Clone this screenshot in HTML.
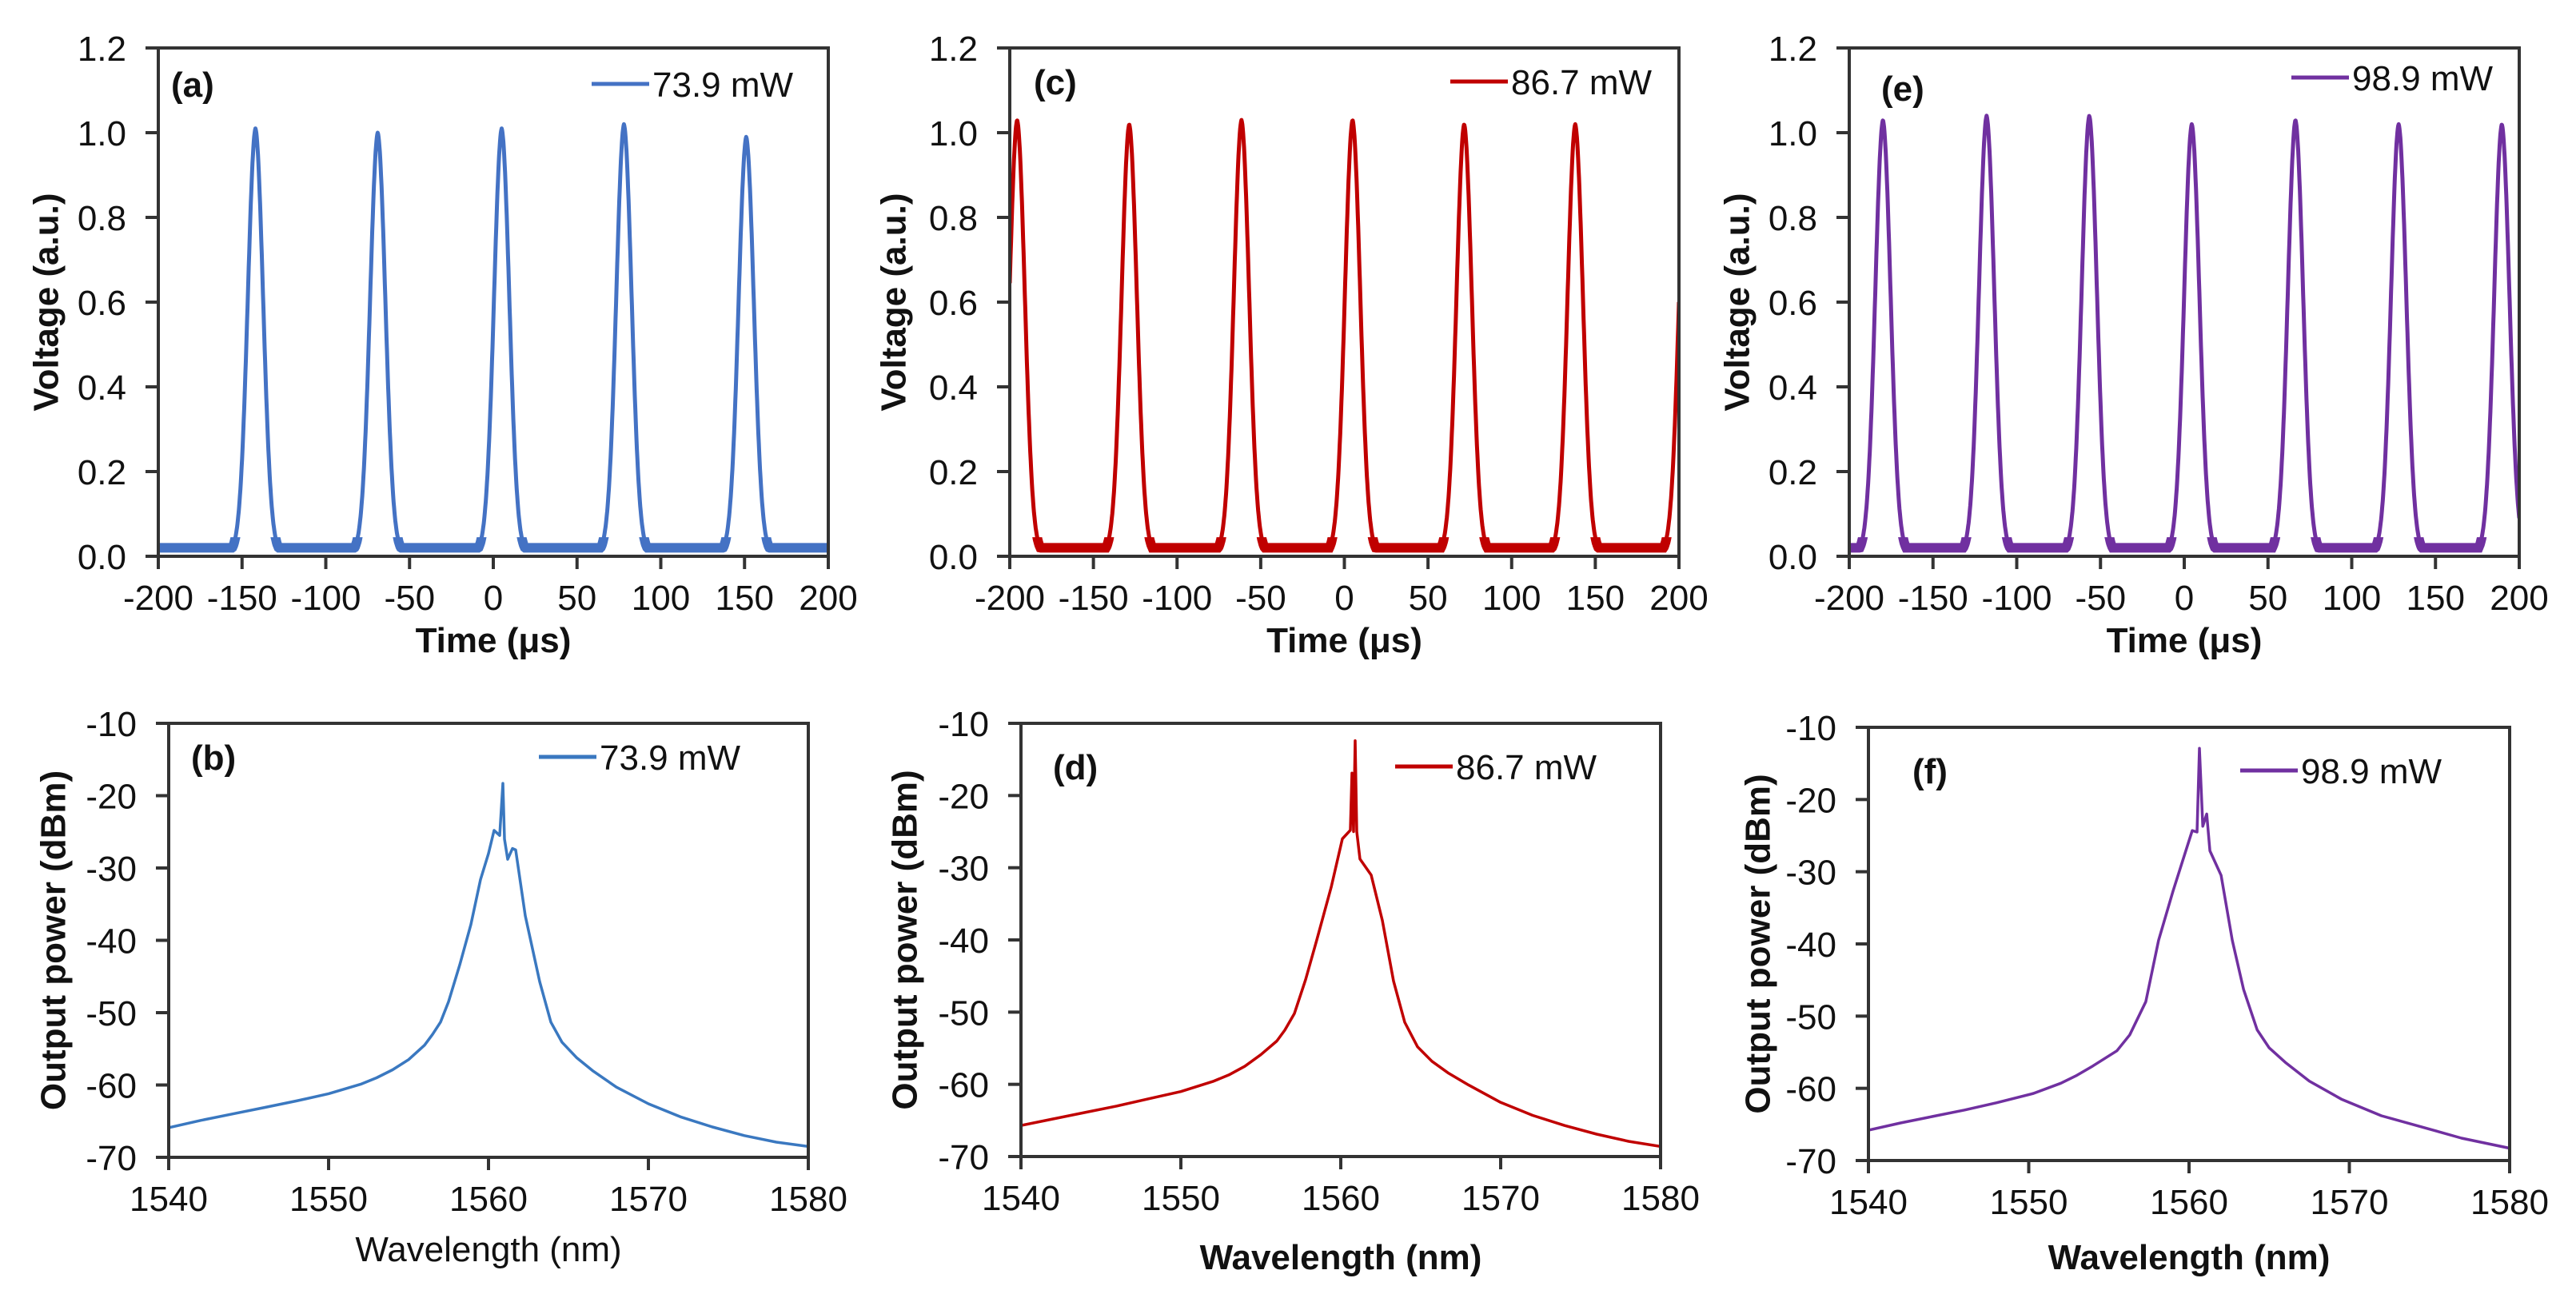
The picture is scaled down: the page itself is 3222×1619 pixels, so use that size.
<!DOCTYPE html>
<html><head><meta charset="utf-8">
<style>
html,body{margin:0;padding:0;background:#fff;}
svg{display:block;font-family:"Liberation Sans",Arial,sans-serif;}
</style></head>
<body>
<svg id="fig" width="3222" height="1619" viewBox="0 0 3222 1619" xmlns="http://www.w3.org/2000/svg">
<rect width="3222" height="1619" fill="#fff"/>
</svg>
<script>
// ---- data ----
const timeTicks = [-200,-150,-100,-50,0,50,100,150,200];
const voltTicks = [0,0.2,0.4,0.6,0.8,1.0,1.2];
const voltTickLabels = ["0.0","0.2","0.4","0.6","0.8","1.0","1.2"];
const wlTicks = [1540,1550,1560,1570,1580];
const dbTicks = [-70,-60,-50,-40,-30,-20,-10];

const peaksA_t = [-142,-69,5,78,151];
const peaksA_v = [1.01,1.00,1.01,1.02,0.99];
const peaksC_t = [-195.6,-128.6,-61.5,4.9,71.6,138.0,204.6];
const peaksC_v = [1.03,1.02,1.03,1.03,1.02,1.02,1.0];
const peaksE_t = [-179.9,-118,-56.7,4.5,66.4,128,189.6];
const peaksE_v = [1.03,1.04,1.04,1.02,1.03,1.02,1.02];
const baseline = [0.02,0.02,0.02];

const specB_wl = [1540,1542,1544,1546,1548,1550,1552,1553,1554,1555,1556,1556.5,1557,1557.5,1558.2,1558.9,1559.5,1560,1560.35,1560.7,1560.9,1561.0,1561.2,1561.5,1561.7,1562.3,1563.2,1563.9,1564.6,1565.5,1566.5,1568,1570,1572,1574,1576,1578,1580];
const specB_db = [-65.9,-64.9,-64.0,-63.1,-62.2,-61.2,-59.9,-59.0,-57.9,-56.5,-54.5,-53.0,-51.3,-48.5,-43.4,-37.8,-31.6,-28,-24.8,-25.5,-18.3,-26,-28.8,-27.3,-27.5,-36.6,-45.7,-51.3,-54.1,-56.2,-58.0,-60.3,-62.6,-64.4,-65.8,-67.0,-67.9,-68.5];
const specD_wl = [1540,1542,1544,1546,1548,1550,1552,1553,1554,1555,1556,1556.5,1557.1,1557.8,1558.5,1559.4,1560.1,1560.6,1560.7,1560.8,1560.9,1561.0,1561.2,1561.9,1562.6,1563.3,1564,1564.8,1565.7,1566.7,1568,1570,1572,1574,1576,1578,1580];
const specD_db = [-65.7,-64.8,-63.9,-63.0,-62.0,-61.0,-59.6,-58.7,-57.5,-55.9,-54.0,-52.5,-50.2,-45.5,-40,-32.7,-26,-24.8,-16.9,-25,-12.4,-25,-28.8,-31,-37.3,-45.7,-51.4,-54.8,-56.8,-58.4,-60.1,-62.5,-64.3,-65.7,-66.9,-67.9,-68.6];
const specF_wl = [1540,1542,1544,1546,1548,1550.3,1552,1553,1554,1555.5,1556.3,1557.3,1558.1,1559,1560.2,1560.5,1560.65,1560.86,1561.1,1561.3,1562,1562.7,1563.4,1564.25,1565,1566,1567.5,1569.5,1572,1574.75,1577,1580];
const specF_db = [-65.8,-64.8,-63.9,-63.0,-62.0,-60.7,-59.3,-58.2,-56.9,-54.8,-52.6,-48,-39.5,-32.7,-24.3,-24.5,-12.9,-23.7,-22,-27.1,-30.5,-39.5,-46.3,-51.9,-54.4,-56.4,-59,-61.5,-63.8,-65.5,-66.9,-68.3];

const NS = "http://www.w3.org/2000/svg";
const svg = document.getElementById('fig');
function mk(tag, attrs, parent){
  const e = document.createElementNS(NS, tag);
  for (const k in attrs) e.setAttribute(k, attrs[k]);
  (parent||svg).appendChild(e); return e;
}
const AX = "#333";

function panel(p){
  const g = mk('g', {});
  
  
  const xs = v => p.L + (v - p.xmin) / (p.xmax - p.xmin) * (p.R - p.L);
  const ys = v => p.B - (v - p.ymin) / (p.ymax - p.ymin) * (p.B - p.T);
  const cp = mk('clipPath', {id:'clip-' + p.id}, g);
  mk('rect', {x:p.L, y:p.T, width:p.R-p.L, height:p.B-p.T}, cp);
  let d = "";
  if (p.type === 'pulse') {
    for (let t = p.xmin; t <= p.xmax + 0.001; t += 0.25) {
      let v = p.base;
      for (let i = 0; i < p.pt.length; i++) {
        const dt = t - p.pt[i];
        const pk = p.pv[i] * (0.93*Math.exp(-dt*dt/(2*4.6*4.6)) + 0.07*Math.exp(-Math.abs(dt)/7));
        v = Math.max(v, pk);
      }
      d += (d ? "L" : "M") + xs(t).toFixed(1) + "," + ys(Math.min(v, 1.2)).toFixed(1);
    }
    const cb = mk('clipPath', {id:'clipb-' + p.id}, g);
    mk('rect', {x:p.L, y:ys(0.045), width:p.R-p.L, height:p.B-ys(0.045)}, cb);
    const band = mk('path', {d:d, fill:'none', stroke:p.color, 'stroke-width':12, 'clip-path':'url(#clipb-' + p.id + ')'}, g);
    
    
  } else {
    for (let i = 0; i < p.sx.length; i++)
      d += (i ? "L" : "M") + xs(p.sx[i]).toFixed(1) + "," + ys(p.sy[i]).toFixed(1);
  }
  const line = mk('path', {d:d, fill:'none', stroke:p.color, 'stroke-width':p.type==='pulse'?5:3.5, 'stroke-linejoin':'round', 'clip-path':'url(#clip-' + p.id + ')'}, g);
  
  
  const fr = mk('rect', {x:p.L, y:p.T, width:p.R-p.L, height:p.B-p.T, fill:'none', stroke:AX, 'stroke-width':4}, g);
  
  
  p.xt.forEach(v => {
    const x = xs(v);
    mk('line', {x1:x, x2:x, y1:p.B, y2:p.B+16, stroke:AX, 'stroke-width':4}, g);
    const t = mk('text', {x:x, y:p.B+67, 'font-size':44, 'text-anchor':'middle', fill:'#111'}, g);
    t.textContent = String(v);
    
    
  });
  p.yt.forEach((v, i) => {
    const y = ys(v);
    mk('line', {x1:p.L-16, x2:p.L, y1:y, y2:y, stroke:AX, 'stroke-width':4}, g);
    const t = mk('text', {x:p.L-40, y:y+16, 'font-size':44, 'text-anchor':'end', fill:'#111'}, g);
    t.textContent = p.ytl ? p.ytl[i] : String(v);
    
    
  });
  const xt = mk('text', {x:(p.L+p.R)/2, y:p.B+p.xtOff, 'font-size':44, 'font-weight':p.xbold?'bold':'normal', 'text-anchor':'middle', fill:'#111'}, g);
  xt.textContent = p.xlabel;
  
  
  const yx = p.L - p.ytOff, yy = (p.T+p.B)/2;
  const yt = mk('text', {x:yx, y:yy, 'font-size':44, 'font-weight':'bold', 'text-anchor':'middle', 'dominant-baseline':'central', transform:'rotate(-90 ' + yx + ' ' + yy + ')', fill:'#111'}, g);
  yt.textContent = p.ylabel;
  
  
  const lt = mk('text', {x:p.L+p.lx, y:p.T+p.ly+16, 'font-size':44, 'font-weight':'bold', fill:'#111'}, g);
  lt.textContent = '(' + p.id + ')';
  
  
  const lgx = p.R - p.legR, lgy = p.T + p.legY;
  const ll = mk('line', {x1:lgx, x2:lgx+72, y1:lgy, y2:lgy, stroke:p.color, 'stroke-width':5}, g);
  
  
  const lg = mk('text', {x:lgx+76, y:lgy+16, 'font-size':44, fill:'#111'}, g);
  lg.textContent = p.legend;
  
  
}

const timeCommon = {type:'pulse', xmin:-200, xmax:200, ymin:0, ymax:1.2, xt:timeTicks, yt:voltTicks, ytl:voltTickLabels, xlabel:'Time (\u03bcs)', ylabel:'Voltage (a.u.)', xbold:true, T:60, B:696, xtOff:120, ytOff:140};
const specCommon = {type:'spec', xmin:1540, xmax:1580, ymin:-70, ymax:-10, xt:wlTicks, yt:dbTicks, ylabel:'Output power (dBm)', xlabel:'Wavelength (nm)'};

panel(Object.assign({}, timeCommon, {id:'a', L:198, R:1036, pt:peaksA_t, pv:peaksA_v, base:baseline[0], color:'#4472C4', legend:'73.9 mW', legR:296, legY:45, lx:16, ly:45}));
panel(Object.assign({}, timeCommon, {id:'c', L:1263, R:2100, pt:peaksC_t, pv:peaksC_v, base:baseline[1], color:'#C00000', legend:'86.7 mW', legR:286, legY:42, lx:30, ly:42, ytOff:145}));
panel(Object.assign({}, timeCommon, {id:'e', L:2313, R:3151, pt:peaksE_t, pv:peaksE_v, base:baseline[2], color:'#7030A0', legend:'98.9 mW', legR:285, legY:37, lx:40, ly:50}));

panel(Object.assign({}, specCommon, {id:'b', L:211, R:1011, T:905, B:1448, sx:specB_wl, sy:specB_db, color:'#3A78C0', legend:'73.9 mW', legR:337, legY:42, lx:28, ly:42, xbold:false, xtOff:130, ytOff:144}));
panel(Object.assign({}, specCommon, {id:'d', L:1277, R:2077, T:905, B:1447, sx:specD_wl, sy:specD_db, color:'#C00000', legend:'86.7 mW', legR:332, legY:54, lx:40, ly:54, xbold:true, xtOff:141, ytOff:145}));
panel(Object.assign({}, specCommon, {id:'f', L:2337, R:3139, T:910, B:1452, sx:specF_wl, sy:specF_db, color:'#7030A0', legend:'98.9 mW', legR:337, legY:54, lx:55, ly:54, xbold:true, xtOff:136, ytOff:138}));
</script>
</body></html>
